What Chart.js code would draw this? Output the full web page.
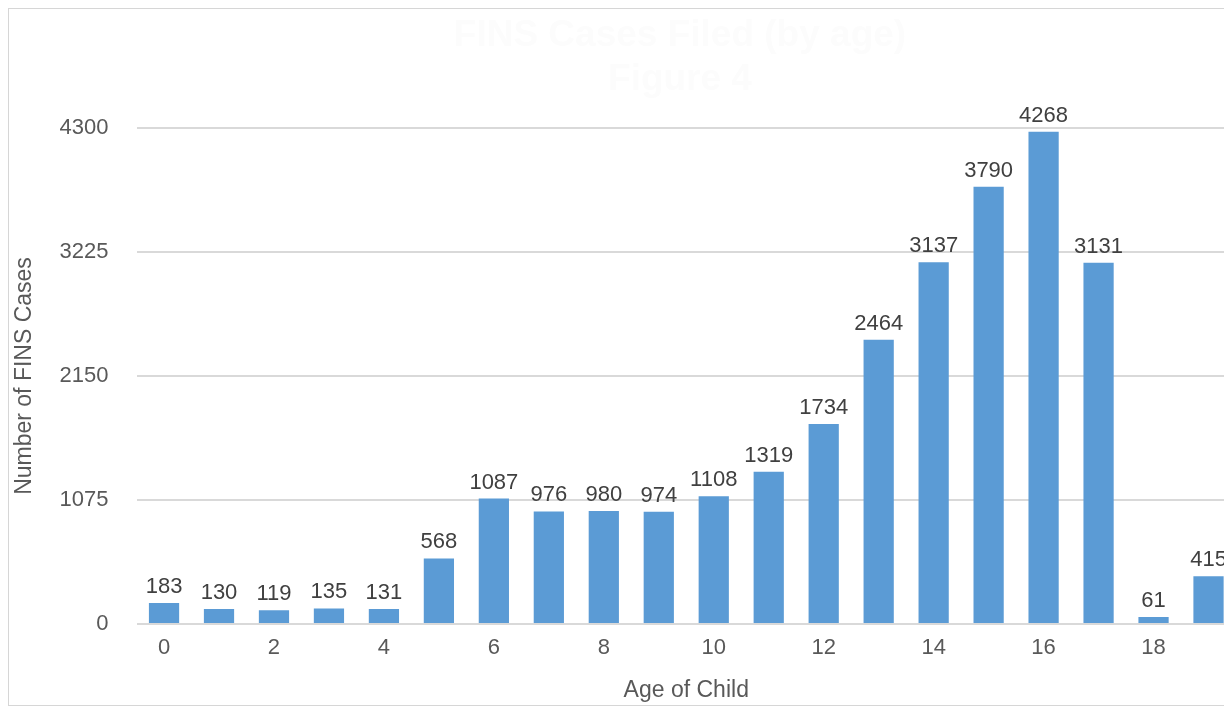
<!DOCTYPE html>
<html>
<head>
<meta charset="utf-8">
<script src="https://cdn.jsdelivr.net/npm/chart.js@4"></script>
<style>
  html, body { margin: 0; padding: 0; background: #ffffff; overflow: hidden; width: 1224px; height: 707px; }
  #frame { position: absolute; left: 8px; top: 8px; width: 1400px; height: 696px;
           border-left: 1px solid #d6d6d6; border-top: 1px solid #d6d6d6; border-bottom: 1px solid #d6d6d6; }
  #wrap { position: absolute; left: 0; top: 0; width: 1240px; height: 707px; }
  #title { position: absolute; left: 400px; width: 560px; top: 12px; text-align: center;
           font-family: "Liberation Sans", Arial, sans-serif; font-weight: bold; font-size: 37px;
           line-height: 44px; color: #fcfcfc; }
</style>
</head>
<body>
<div id="frame"></div>
<div id="wrap"><canvas id="c"></canvas></div>
<div id="title">FINS Cases Filed (by age)<br>Figure 4</div>
<script>
const ages = ['0','1','2','3','4','5','6','7','8','9','10','11','12','13','14','15','16','17','18','19'];
const cases = [183,130,119,135,131,568,1087,976,980,974,1108,1319,1734,2464,3137,3790,4268,3131,61,415];
const yTicks = [0,1075,2150,3225,4300];
const xTitle = 'Age of Child';
const yTitle = 'Number of FINS Cases';

const FONT = '"Liberation Sans", Arial, Helvetica, sans-serif';

const valueLabels = {
  id: 'valueLabels',
  afterDatasetsDraw(chart) {
    const ctx = chart.ctx;
    const meta = chart.getDatasetMeta(0);
    ctx.save();
    ctx.font = '22px ' + FONT;
    ctx.fillStyle = '#404040';
    ctx.textAlign = 'center';
    ctx.textBaseline = 'alphabetic';
    meta.data.forEach((el, i) => {
      ctx.fillText(String(cases[i]), el.x, el.y - 10);
    });
    ctx.restore();
  }
};

new Chart(document.getElementById('c'), {
  type: 'bar',
  data: {
    labels: ages,
    datasets: [{
      data: cases,
      backgroundColor: '#5b9bd5',
      borderWidth: 0,
      barPercentage: 0.55,
      categoryPercentage: 1.0
    }]
  },
  options: {
    responsive: true,
    maintainAspectRatio: false,
    animation: false,
    layout: { padding: { top: 128, left: 7, right: 4, bottom: 0 } },
    plugins: { legend: { display: false }, tooltip: { enabled: false } },
    scales: {
      x: {
        grid: { display: false, drawTicks: false },
        border: { display: false },
        ticks: {
          autoSkip: false, maxRotation: 0, padding: 11,
          color: '#595959', font: { family: FONT, size: 22 },
          callback: function(v, i) { return i % 2 === 0 ? ages[i] : ''; }
        },
        title: { display: true, text: xTitle, color: '#595959',
                 font: { family: FONT, size: 23 }, padding: { top: 4, bottom: 3 } }
      },
      y: {
        min: 0, max: 4300,
        afterBuildTicks: (axis) => { axis.ticks = yTicks.map(v => ({ value: v })); },
        grid: { color: '#d9d9d9', lineWidth: 2, drawTicks: false },
        border: { display: false },
        ticks: { padding: 28, color: '#595959', font: { family: FONT, size: 22 },
                 callback: (v) => String(v) },
        title: { display: true, text: yTitle, color: '#595959',
                 font: { family: FONT, size: 23 }, padding: { top: 4, bottom: -7 } }
      }
    }
  },
  plugins: [valueLabels]
});
</script>
</body>
</html>
